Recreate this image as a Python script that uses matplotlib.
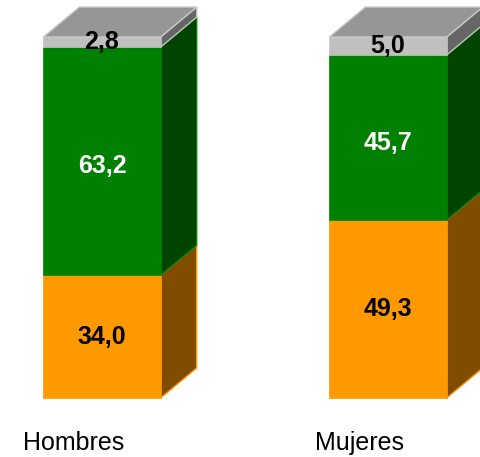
import matplotlib
matplotlib.use("Agg")
import matplotlib.pyplot as plt
from matplotlib.patches import Polygon

# data (percent)
categories = ["Hombres", "Mujeres"]
orange_vals = [34.0, 49.3]
green_vals = [63.2, 45.7]
gray_vals = [2.8, 5.0]
labels = [["34,0", "63,2", "2,8"], ["49,3", "45,7", "5,0"]]

# face colours: front, side, top
seg_colors = [
    ("#ff9900", "#7f4c00", "#ffb84d"),
    ("#008000", "#004400", "#2c9a2c"),
    ("#c0c0c0", "#666666", "#969696"),
]
text_colors = ["black", "white", "black"]
label_shift = [0.0, -1.4, 0.0]

plt.rcParams["font.family"] = ["Liberation Sans", "DejaVu Sans"]

fig = plt.figure(figsize=(4.81, 4.57), dpi=100)
ax = fig.add_axes([0, 0, 1, 1])
ax.set_xlim(-0.3566, 1.3252)
ax.set_ylim(-16.34, 110.25)
ax.axis("off")

width = 0.41
dx, dy = 0.126, 8.3

for i, cat in enumerate(categories):
    x0 = i - width / 2
    x1 = i + width / 2
    vals = [orange_vals[i], green_vals[i], gray_vals[i]]
    bottom = 0.0
    for j, v in enumerate(vals):
        front, side, top = seg_colors[j]
        y0, y1 = bottom, bottom + v
        # side face
        ax.add_patch(Polygon([(x1, y0), (x1 + dx, y0 + dy), (x1 + dx, y1 + dy), (x1, y1)],
                             closed=True, facecolor=side, edgecolor=front, lw=1, zorder=2))
        # front face
        ax.add_patch(Polygon([(x0, y0), (x1, y0), (x1, y1), (x0, y1)],
                             closed=True, facecolor=front, edgecolor=front, lw=0.5, zorder=3))
        if j == len(vals) - 1:
            ax.add_patch(Polygon([(x0, y1), (x1, y1), (x1 + dx, y1 + dy), (x0 + dx, y1 + dy)],
                                 closed=True, facecolor=top, edgecolor="#c8c8c8", lw=1, zorder=3))
        ax.text(i, (y0 + y1) / 2 + label_shift[j], labels[i][j], ha="center", va="center",
                fontsize=18, fontweight="bold", color=text_colors[j], zorder=5)
        bottom = y1
    ax.text(i - 0.1, -12.5, cat, ha="center", va="center", fontsize=18, color="black")

fig.savefig("out.png", dpi=100)
